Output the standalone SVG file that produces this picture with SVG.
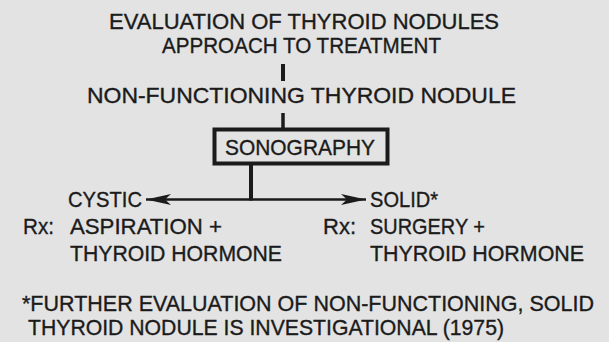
<svg xmlns="http://www.w3.org/2000/svg" width="609" height="342" viewBox="0 0 609 342">
<style>
text{font-family:"Liberation Sans","Open Sans",sans-serif;font-size:22px;fill:#1b1b1b;stroke:#1b1b1b;stroke-width:0.35;}
.ln{stroke:#1b1b1b;fill:none;}
</style>
<defs>
<marker id="ah" viewBox="0 0 25 11" refX="25" refY="5.5" markerWidth="25" markerHeight="11" markerUnits="userSpaceOnUse" orient="auto-start-reverse">
<path d="M0,0 L25,5.5 L0,11 L6,5.5 Z" fill="#1b1b1b"/>
</marker>
</defs>
<rect width="609" height="342" fill="#e3e3e3"/>
<g id="title">
<text x="109" y="29" textLength="390" lengthAdjust="spacingAndGlyphs">EVALUATION OF THYROID NODULES</text>
<text x="162" y="53" textLength="279" lengthAdjust="spacingAndGlyphs">APPROACH TO TREATMENT</text>
</g>
<g id="nonfunctioning">
<text x="87" y="103" textLength="429" lengthAdjust="spacingAndGlyphs">NON-FUNCTIONING THYROID NODULE</text>
</g>
<g id="sonography">
<rect x="214.5" y="129.5" width="173" height="34" fill="none" stroke="#1b1b1b" stroke-width="4"/>
<text x="225" y="155" textLength="150" lengthAdjust="spacingAndGlyphs">SONOGRAPHY</text>
</g>
<g id="cystic">
<text x="68" y="207" textLength="74" lengthAdjust="spacingAndGlyphs">CYSTIC</text>
<text x="23" y="234" textLength="31" lengthAdjust="spacingAndGlyphs">Rx:</text>
<text x="70" y="234" textLength="152" lengthAdjust="spacingAndGlyphs">ASPIRATION +</text>
<text x="70" y="261" textLength="212" lengthAdjust="spacingAndGlyphs">THYROID HORMONE</text>
</g>
<g id="solid">
<text x="370" y="207" textLength="68" lengthAdjust="spacingAndGlyphs">SOLID*</text>
<text x="323" y="234" textLength="33" lengthAdjust="spacingAndGlyphs">Rx:</text>
<text x="370" y="234" textLength="115" lengthAdjust="spacingAndGlyphs">SURGERY +</text>
<text x="370" y="261" textLength="214" lengthAdjust="spacingAndGlyphs">THYROID HORMONE</text>
</g>
<g id="footnote">
<text x="22" y="311" textLength="572" lengthAdjust="spacingAndGlyphs">*FURTHER EVALUATION OF NON-FUNCTIONING, SOLID</text>
<text x="28" y="335" textLength="476" lengthAdjust="spacingAndGlyphs">THYROID NODULE IS INVESTIGATIONAL (1975)</text>
</g>
<g id="connectors">
<line class="ln" x1="283" y1="64" x2="283" y2="81" stroke-width="4"/>
<line class="ln" x1="283" y1="113" x2="283" y2="129" stroke-width="3.5"/>
<line class="ln" x1="251" y1="165" x2="251" y2="200.5" stroke-width="4"/>
<line class="ln" x1="146" y1="199.5" x2="366" y2="199.5" stroke-width="2.5" marker-start="url(#ah)" marker-end="url(#ah)"/>
</g>
</svg>
